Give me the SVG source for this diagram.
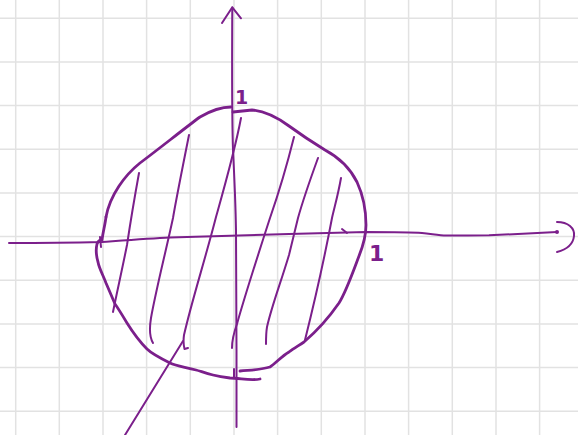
<svg xmlns="http://www.w3.org/2000/svg" width="578" height="435" viewBox="0 0 578 435">
<style>
.grid line{stroke:#e2e2e2;stroke-width:1.5}
.ink{fill:none;stroke:#7b1f8b;stroke-linecap:round;stroke-linejoin:round}
.thin{stroke-width:2}
.thick{stroke-width:2.8}
.lbl{font-family:"DejaVu Sans",sans-serif;font-weight:bold;fill:#7b1f8b}
</style>
<rect width="578" height="435" fill="#ffffff"/>
<g class="grid">
<line x1="15.7" y1="0" x2="15.7" y2="435"/>
<line x1="59.3" y1="0" x2="59.3" y2="435"/>
<line x1="103" y1="0" x2="103" y2="435"/>
<line x1="146.6" y1="0" x2="146.6" y2="435"/>
<line x1="190.3" y1="0" x2="190.3" y2="435"/>
<line x1="234" y1="0" x2="234" y2="435"/>
<line x1="277.6" y1="0" x2="277.6" y2="435"/>
<line x1="321.3" y1="0" x2="321.3" y2="435"/>
<line x1="365" y1="0" x2="365" y2="435"/>
<line x1="408.6" y1="0" x2="408.6" y2="435"/>
<line x1="452.3" y1="0" x2="452.3" y2="435"/>
<line x1="496" y1="0" x2="496" y2="435"/>
<line x1="539.6" y1="0" x2="539.6" y2="435"/>
<line x1="0" y1="18.3" x2="578" y2="18.3"/>
<line x1="0" y1="62" x2="578" y2="62"/>
<line x1="0" y1="105.6" x2="578" y2="105.6"/>
<line x1="0" y1="149.3" x2="578" y2="149.3"/>
<line x1="0" y1="193" x2="578" y2="193"/>
<line x1="0" y1="236.6" x2="578" y2="236.6"/>
<line x1="0" y1="280.3" x2="578" y2="280.3"/>
<line x1="0" y1="324" x2="578" y2="324"/>
<line x1="0" y1="367.6" x2="578" y2="367.6"/>
<line x1="0" y1="411.3" x2="578" y2="411.3"/>
</g>
<g id="disk">
<path class="ink thick" d="M106,217 C110,195 125,175 140,163 C160,148 185,128 200,117 C212,110 222,107 231,107"/>
<path class="ink thick" d="M233,112 L252,110 C265,111 278,118 289,126 C300,134 312,142 325,150 C340,158 350,168 357,182 C363,195 366,210 366,225 C366,237 363,246 359,256 C353,272 346,292 339,303 C330,316 318,330 304,342 C298,346 293,349 289,352 C282,356 276,363 270,367 C260,370 250,370 240,371"/>
<path class="ink thick" d="M260,379 C250,381 240,378 230,378 C222,377 217,376 213,375 C205,373 200,371 196,370 C185,367 176,366 170,363 C160,358 152,354 147,349 C138,340 132,331 127,323 C121,313 118,308 115,304 C112,297 109,290 106,283 C103,275 99,268 98,262 C96,255 96,248 97,244 C98,241 100,240 102,240 C103,232 105,225 106,217"/>
<path class="ink thin" d="M139,173 C135,195 130,225 127,245 C122,270 117,292 113,312"/>
<path class="ink thin" d="M189,135 C182,170 176,200 173,218 C165,255 156,290 151,318 C149,330 150,338 153,343"/>
<path class="ink thin" d="M241,118 C235,150 225,185 216,217 C205,260 192,300 184,335 C183,342 184,347 184.5,349 L188,348"/>
<path class="ink thin" d="M294,137 C287,165 278,195 270,218 C258,255 245,295 237,324 C233,335 232,342 232,348"/>
<path class="ink thin" d="M318,158 C310,180 303,200 298,218 C295,230 292,243 289,255 C280,285 272,305 267,327 C266,333 266,339 266,344"/>
<path class="ink thin" d="M341,178 C338,195 335,205 332,218 C325,255 315,300 305,340"/>
</g>
<g id="connectors">
<path class="ink thin" d="M9,243 C40,243 80,242.5 102,242 C130,240 150,238.5 170,237.5 C210,236 250,235 289,234 C320,233 345,232.5 366,232 C390,232 410,232 422,233 C432,234 440,235.5 446,235.5 C460,235.5 475,235.5 489,235.3 C520,234 540,233 557,232"/>
<circle cx="557" cy="232" r="2" fill="#7b1f8b"/>
<path class="ink thin" d="M557,222 C568,222 575,228 574,236 C573,245 565,250 557,252"/>
<path class="ink thin" d="M236.5,427 C236.5,400 236.5,370 236.5,350 C236.5,300 236.5,260 236,230 C235.5,200 234,170 233,150 C232,120 232,60 232.3,7.5"/>
<path class="ink thin" d="M222,23 L232.3,7.3 L241,18.3"/>
<path class="ink thin" d="M234,377 L234,369"/>
<path class="ink thin" d="M100,237 L101,247"/>
<path class="ink thin" d="M342,229 L347,233"/>
<path class="ink thin" d="M183,341 L125,435"/>
</g>
<g id="labels">
<text class="lbl" x="235" y="104" font-size="19">1</text>
<text class="lbl" x="369" y="261" font-size="22">1</text>
</g>
</svg>
